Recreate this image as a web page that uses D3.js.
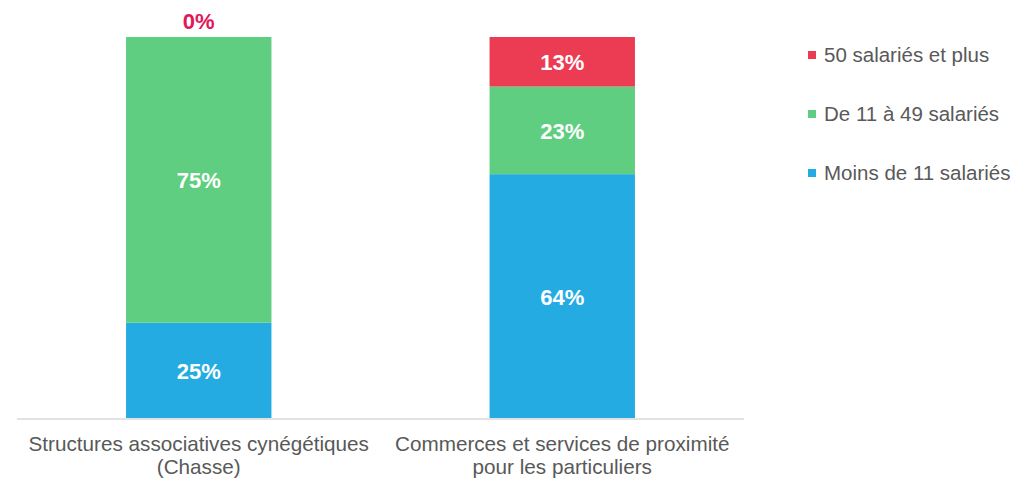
<!DOCTYPE html>
<html>
<head>
<meta charset="utf-8">
<script src="https://cdnjs.cloudflare.com/ajax/libs/d3/7.8.5/d3.min.js"></script>
<style>
	body { margin: 0; background: #fff; }
	svg text { font-family: Arial, "Liberation Sans", sans-serif; }
</style>
</head>
<body>
<svg id="chart" width="1035" height="479"></svg>
<script>
	// données
	var categories = [
		['Structures associatives cynégétiques', '(Chasse)'],
		['Commerces et services de proximité', 'pour les particuliers']
	];
	var series = ['Moins de 11 salariés', 'De 11 à 49 salariés', '50 salariés et plus'];
	var moins11 = [25, 64];
	var de11a49 = [75, 23];
	var plus50 = [0, 13];
	var colors = ['#24ace2', '#60ce80', '#ec3c53'];

	var svg = d3.select('#chart');
	var x = d3.scaleBand()
		.domain(d3.range(categories.length))
		.range([17, 744])
		.paddingInner(0.6)
		.paddingOuter(0.3);
	var y = d3.scaleLinear().domain([0, 100]).range([418, 37]);

	var rows = categories.map(function(c, i) {
		return { i: i, s0: moins11[i], s1: de11a49[i], s2: plus50[i] };
	});
	var stack = d3.stack().keys(['s0', 's1', 's2'])(rows);

	var layers = svg.selectAll('g.layer')
		.data(stack)
		.enter().append('g')
			.attr('class', 'layer')
			.attr('fill', function(d, k) { return colors[k]; });

	layers.selectAll('rect')
		.data(function(d) { return d; })
		.enter().append('rect')
			.attr('x', function(d) { return x(d.data.i); })
			.attr('width', x.bandwidth())
			.attr('y', function(d) { return y(d[1]); })
			.attr('height', function(d) { return y(d[0]) - y(d[1]); });

	// étiquettes de valeurs
	stack.forEach(function(layer, k) {
		layer.forEach(function(d) {
			var v = d[1] - d[0];
			var cx = x(d.data.i) + x.bandwidth() / 2;
			var t = svg.append('text')
				.attr('text-anchor', 'middle')
				.attr('font-weight', 'bold')
				.attr('font-size', '22px')
				.text(v + '%');
			if (v > 0) {
				t.attr('x', cx).attr('y', (y(d[0]) + y(d[1])) / 2 + 8.5).attr('fill', '#fff');
			} else {
				t.attr('x', cx).attr('y', y(d[1]) - 8).attr('fill', '#e2185a');
			}
		});
	});

	// axe
	svg.append('line')
		.attr('x1', 17).attr('x2', 744)
		.attr('y1', 419).attr('y2', 419)
		.attr('stroke', '#d9d9d9').attr('stroke-width', 1.5);

	categories.forEach(function(lines, i) {
		lines.forEach(function(l, j) {
			svg.append('text')
				.attr('x', x(i) + x.bandwidth() / 2)
				.attr('y', 451 + j * 23)
				.attr('text-anchor', 'middle')
				.attr('font-size', '20.7px')
				.attr('fill', '#595959')
				.text(l);
		});
	});

	// légende
	var legend = svg.selectAll('g.legend')
		.data(series.slice().reverse())
		.enter().append('g')
			.attr('class', 'legend')
			.attr('transform', function(d, i) { return 'translate(808,' + (51 + i * 59) + ')'; });
	legend.append('rect')
		.attr('width', 8).attr('height', 8)
		.attr('fill', function(d, i) { return colors[2 - i]; });
	legend.append('text')
		.attr('x', 16).attr('y', 11)
		.attr('font-size', '20.5px')
		.attr('fill', '#595959')
		.text(function(d) { return d; });
</script>
</body>
</html>
